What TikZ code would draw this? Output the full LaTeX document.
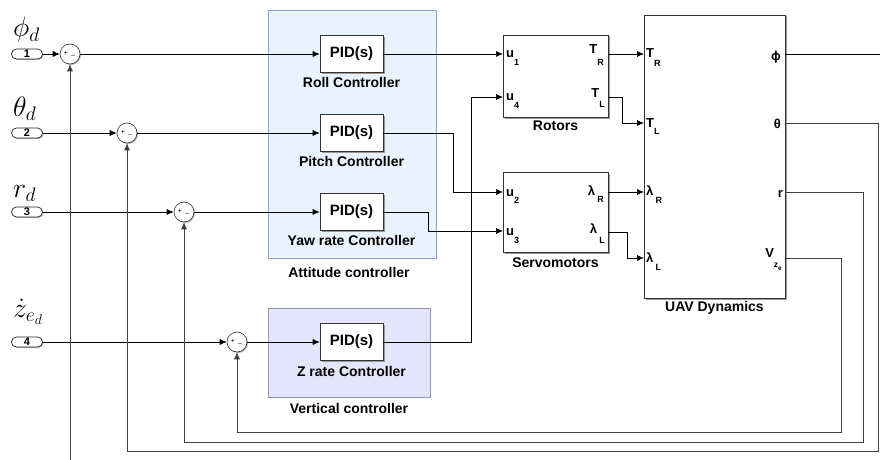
\documentclass[tikz,border=0pt]{standalone}
\usepackage{fix-cm}
\usepackage{fontspec}
\setmainfont{Liberation Sans}
\usetikzlibrary{arrows.meta,shadows}
\definecolor{attfill}{RGB}{232,243,253}
\definecolor{attdraw}{RGB}{138,165,200}
\definecolor{verfill}{RGB}{228,228,250}
\definecolor{verdraw}{RGB}{150,150,175}
\newcommand\pname[3][8pt]{#2\raisebox{-#1}{\fontsize{9}{9}\selectfont #3}}
\newcommand\lblfont{\fontsize{14}{16}\selectfont\bfseries}
\newcommand\mlab{\fontsize{28}{28}\selectfont}
\begin{document}
\begin{tikzpicture}[x=1pt,y=-1pt,
  >={Latex[length=7pt,width=6pt]},
  wire/.style={line width=0.7pt, draw=black},
  fb/.style={line width=0.7pt, draw=black!75},
  blk/.style={draw=black!80, line width=0.6pt, fill=white, inner sep=0pt,
     drop shadow={shadow xshift=1.5pt,shadow yshift=-1.5pt,fill=black!40,opacity=1}},
  pid/.style={blk, minimum width=63pt, minimum height=37pt, font=\fontsize{15}{16}\selectfont\bfseries},
  sumc/.style={circle, draw=black!80, line width=0.6pt, fill=white, minimum size=20pt, inner sep=0pt,
     drop shadow={shadow xshift=1pt,shadow yshift=-1pt,fill=black!30,opacity=1}},
  port/.style={draw=black!85, line width=0.7pt, fill=white, rounded corners=5pt, minimum width=31pt, minimum height=10pt, inner sep=0pt,
     font=\fontsize{11}{10}\selectfont\bfseries,
     drop shadow={shadow xshift=1pt,shadow yshift=-1pt,fill=black!30,opacity=1}},
  lbl/.style={font=\lblfont, anchor=base, inner sep=0pt},
  plab/.style={font=\fontsize{13}{13}\selectfont\bfseries, inner sep=0pt},
  sgn/.style={font=\fontsize{7}{7}\selectfont, inner sep=0pt}
]
\useasboundingbox[fill=white] (0,0) rectangle (880,460);

% background areas
\node[draw=attdraw, fill=attfill, line width=0.6pt, minimum width=168pt, minimum height=248pt, inner sep=0pt] (att) at (352,134) {};
\node[draw=verdraw, fill=verfill, line width=0.6pt, minimum width=162pt, minimum height=89pt, inner sep=0pt] (ver) at (349,352.5) {};
\node[lbl] (attl) at (349,277) {Attitude controller};
\node[lbl] (verl) at (349,413) {Vertical controller};

% input ports
\node[port] (p1) at (27,54) {1};
\node[port] (p2) at (27,133) {2};
\node[port] (p3) at (27,212) {3};
\node[port] (p4) at (27,342) {4};
\node[anchor=base west, inner sep=0pt] (l1) at (13,37) {\mlab$\phi_d$};
\node[anchor=base west, inner sep=0pt] (l2) at (13,116) {\mlab$\theta_d$};
\node[anchor=base west, inner sep=0pt] (l3) at (13,197) {\mlab$r_d$};
\node[anchor=base west, inner sep=0pt] (l4) at (13,317) {\mlab$\dot z_{e_d}$};

% sums
\node[sumc] (s1) at (70,54) {};
\node[sumc] (s2) at (127,133) {};
\node[sumc] (s3) at (184,212) {};
\node[sumc] (s4) at (237,342) {};
\foreach \s in {s1,s2,s3,s4}{
  \node[sgn] (\s p) at ([xshift=-4pt,yshift=1pt]\s.center) {+};
  \node[sgn] (\s m) at ([xshift=3pt,yshift=-1pt]\s.center) {\_};
}

% PID blocks
\node[pid] (roll) at (351.5,54) {PID(s)};
\node[pid] (pitch) at (351.5,133) {PID(s)};
\node[pid] (yaw) at (351.5,212) {PID(s)};
\node[pid] (zpid) at (351.5,342) {PID(s)};
\node[lbl] (rolll) at (351.5,87) {Roll Controller};
\node[lbl] (pitchl) at (351.5,166) {Pitch Controller};
\node[lbl] (yawl) at (351.5,245) {Yaw rate Controller};
\node[lbl] (zl) at (351.5,376) {Z rate Controller};

% Rotors, Servomotors, UAV
\node[blk, minimum width=105pt, minimum height=82pt] (rot) at (555.5,76) {};
\node[blk, minimum width=105pt, minimum height=80pt] (srv) at (555.5,212) {};
\node[blk, minimum width=141pt, minimum height=283pt] (uav) at (714.5,156.5) {};
\node[lbl] (rotl) at (555.5,130) {Rotors};
\node[lbl] (srvl) at (555.5,267) {Servomotors};
\node[lbl] (uavl) at (714.5,311) {UAV Dynamics};

% port labels
\node[plab, anchor=base west] (ru1) at (506,57) {\pname[9pt]{u}{1}};
\node[plab, anchor=base west] (ru4) at (506,100) {\pname[8pt]{u}{4}};
\node[plab, anchor=base east] (rtr) at (604,54) {\pname[11pt]{T}{R}};
\node[plab, anchor=base east] (rtl) at (605,97) {\pname[10pt]{T}{L}};
\node[plab, anchor=base west] (su2) at (506,196) {\pname[7pt]{u}{2}};
\node[plab, anchor=base west] (su3) at (506,235) {\pname[8pt]{u}{3}};
\node[plab, anchor=base east] (slr) at (604,195) {\pname[7pt]{λ\,}{R}};
\node[plab, anchor=base east] (sll) at (605,233) {\pname[10pt]{λ\,}{L}};
\node[plab, anchor=base west] (utr) at (646,58) {\pname[9pt]{T}{R}};
\node[plab, anchor=base west] (utl) at (646,127) {\pname[7pt]{T}{L}};
\node[plab, anchor=base west] (ulr) at (646,195) {\pname[8pt]{λ\,}{R}};
\node[plab, anchor=base west] (ull) at (646,262) {\pname[8pt]{λ\,}{L}};
\node[plab, anchor=base east] (uphi) at (781,60) {ϕ};
\node[plab, anchor=base east] (uth) at (781,128) {θ};
\node[plab, anchor=base east] (ur) at (783,197) {r};
\node[plab, anchor=base east] (uvz) at (782,257) {V\raisebox{-10pt}{\fontsize{8.5}{8}\selectfont z\raisebox{-3pt}{\fontsize{6.5}{6}\selectfont e}}};

% connector coordinates
\coordinate (iu1) at (503,54);
\coordinate (iu4) at (503,97);
\coordinate (iu2) at (503,192);
\coordinate (iu3) at (503,231);
\coordinate (oTR) at (608,54);
\coordinate (oTL) at (608,97);
\coordinate (oLR) at (608,192);
\coordinate (oLL) at (608,232);
\coordinate (iTR) at (644,54);
\coordinate (iTL) at (644,123);
\coordinate (iLR) at (644,192);
\coordinate (iLL) at (644,258);
\coordinate (ophi) at (785,54);
\coordinate (oth) at (785,123);
\coordinate (or) at (785,192);
\coordinate (ovz) at (785,258);
\coordinate (phiend) at (880,54);
\coordinate (fb1) at (70,460);

% forward connections
\draw[wire,->] (p1) -- (s1);
\draw[wire,->] (p2) -- (s2);
\draw[wire,->] (p3) -- (s3);
\draw[wire,->] (p4) -- (s4);
\draw[wire,->] (s1) -- (roll);
\draw[wire,->] (s2) -- (pitch);
\draw[wire,->] (s3) -- (yaw);
\draw[wire,->] (s4) -- (zpid);
\draw[wire,->] (roll.east) -- (iu1);
\draw[wire,->] (pitch.east) -- (453,133) |- (iu2);
\draw[wire,->] (yaw.east) -- (428,212) |- (iu3);
\draw[wire,->] (zpid.east) -- (471,342) |- (iu4);
\draw[wire,->] (oTR) -- (iTR);
\draw[wire,->] (oTL) -- (622,97) |- (iTL);
\draw[wire,->] (oLR) -- (iLR);
\draw[wire,->] (oLL) -- (627,232) |- (iLL);
\draw[wire] (ophi) -- (phiend);

% feedback
\draw[fb,->] (fb1) -- (s1);
\draw[fb,->] (oth) -- (878,123) -- (878,451) -| (s2);
\draw[fb,->] (or) -- (863,192) -- (863,442) -| (s3);
\draw[fb,->] (ovz) -- (841,258) -- (841,432) -| (s4);
\end{tikzpicture}
\end{document}
